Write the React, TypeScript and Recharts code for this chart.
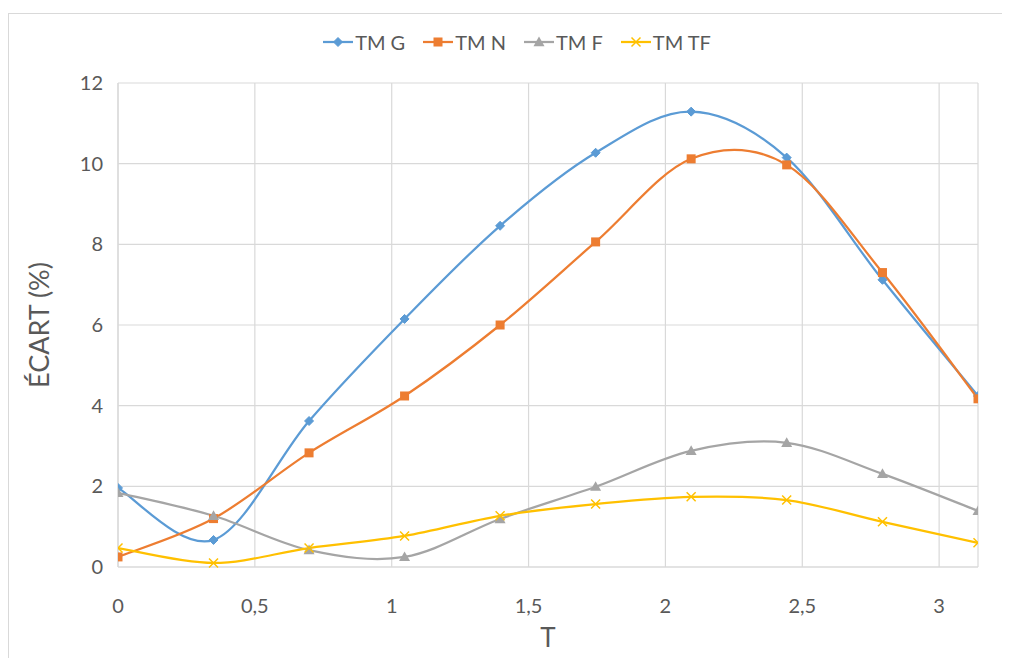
import {
  LineChart,
  Line,
  XAxis,
  YAxis,
  CartesianGrid,
  Legend,
} from "recharts";

const T = [0, 0.349, 0.698, 1.047, 1.396, 1.745, 2.094, 2.443, 2.793, 3.142];
const TM_G = [1.96, 0.67, 3.62, 6.15, 8.46, 10.27, 11.29, 10.15, 7.12, 4.24];
const TM_N = [0.25, 1.2, 2.83, 4.24, 6.0, 8.06, 10.12, 9.97, 7.3, 4.17];
const TM_F = [1.84, 1.27, 0.42, 0.25, 1.19, 1.99, 2.88, 3.08, 2.31, 1.39];
const TM_TF = [0.47, 0.1, 0.47, 0.77, 1.27, 1.56, 1.74, 1.66, 1.12, 0.6];

const X_TICKS = [0, 0.5, 1, 1.5, 2, 2.5, 3];
const Y_TICKS = [0, 2, 4, 6, 8, 10, 12];

const FONT = "Lato, 'Liberation Sans', sans-serif";
const TEXT = "#595959";
const GRID = "#D9D9D9";

const data = T.map((t, i) => ({
  t,
  g: TM_G[i],
  n: TM_N[i],
  f: TM_F[i],
  tf: TM_TF[i],
}));

// Excel-style smoothed line (Catmull-Rom through the points)
function smoothCurve(context: any) {
  let pts: number[][] = [];
  return {
    areaStart() {},
    areaEnd() {},
    lineStart() {
      pts = [];
    },
    lineEnd() {
      if (!pts.length) return;
      context.moveTo(pts[0][0], pts[0][1]);
      const k = 1 / 6;
      for (let i = 0; i < pts.length - 1; i++) {
        const p0 = pts[i - 1] || pts[i];
        const p1 = pts[i];
        const p2 = pts[i + 1];
        const p3 = pts[i + 2] || p2;
        context.bezierCurveTo(
          p1[0] + (p2[0] - p0[0]) * k,
          p1[1] + (p2[1] - p0[1]) * k,
          p2[0] - (p3[0] - p1[0]) * k,
          p2[1] - (p3[1] - p1[1]) * k,
          p2[0],
          p2[1]
        );
      }
    },
    point(x: number, y: number) {
      pts.push([+x, +y]);
    },
  };
}

type Marker = "diamond" | "square" | "triangle" | "cross";

function markerShape(kind: Marker, cx: number, cy: number, color: string, key?: any) {
  if (kind === "diamond") {
    const r = 4.5;
    return (
      <path key={key} d={`M${cx},${cy - r}L${cx + r},${cy}L${cx},${cy + r}L${cx - r},${cy}Z`} fill={color} stroke={color} />
    );
  }
  if (kind === "square") {
    const r = 4.5;
    return <rect key={key} x={cx - r} y={cy - r} width={2 * r} height={2 * r} fill={color} />;
  }
  if (kind === "triangle") {
    const r = 5.5;
    return (
      <path key={key} d={`M${cx},${cy - r}L${cx + r},${cy + r * 0.75}L${cx - r},${cy + r * 0.75}Z`} fill={color} />
    );
  }
  const r = 4.5;
  return (
    <path key={key} d={`M${cx - r},${cy - r}L${cx + r},${cy + r}M${cx + r},${cy - r}L${cx - r},${cy + r}`} stroke={color} strokeWidth={1.5} fill="none" />
  );
}

const SERIES: { key: string; name: string; color: string; marker: Marker }[] = [
  { key: "g", name: "TM G", color: "#5B9BD5", marker: "diamond" },
  { key: "n", name: "TM N", color: "#ED7D31", marker: "square" },
  { key: "f", name: "TM F", color: "#A5A5A5", marker: "triangle" },
  { key: "tf", name: "TM TF", color: "#FFC000", marker: "cross" },
];

function LegendContent() {
  return (
    <div style={{ display: "flex", justifyContent: "center", gap: 18, paddingLeft: 24, fontFamily: FONT, fontSize: 20, color: TEXT, height: 26, alignItems: "center" }}>
      {SERIES.map((s) => (
        <div key={s.key} style={{ display: "flex", alignItems: "center", gap: 2 }}>
          <svg width={30} height={14}>
            <line x1={0} y1={7} x2={30} y2={7} stroke={s.color} strokeWidth={2.25} />
            {markerShape(s.marker, 15, 7, s.color)}
          </svg>
          <span>{s.name}</span>
        </div>
      ))}
    </div>
  );
}

export default function App() {
  return (
    <div style={{ position: "relative", width: 994, height: 650 }}>
      <div
        style={{
          position: "absolute",
          left: 0,
          top: 5,
          right: -20,
          bottom: -20,
          borderLeft: `1.5px solid ${GRID}`,
          borderTop: `1.5px solid ${GRID}`,
        }}
      />
      <LineChart
        width={994}
        height={650}
        data={data}
        margin={{ top: 49, right: 24, bottom: 31, left: 10 }}
        style={{ fontFamily: FONT }}
      >
        <CartesianGrid stroke={GRID} strokeWidth={1.2} />
        <XAxis
          dataKey="t"
          type="number"
          domain={[0, 3.142]}
          ticks={X_TICKS}
          allowDataOverflow
          height={60}
          tickLine={false}
          tickMargin={26}
          axisLine={{ stroke: GRID, strokeWidth: 1.2 }}
          tick={{ fill: TEXT, fontSize: 20 }}
          tickFormatter={(v: number) => String(v).replace(".", ",")}
          label={{
            content: () => (
              <text x={540} y={629} textAnchor="middle" dominantBaseline="central" fill={TEXT} fontSize={26} fontFamily={FONT}>
                T
              </text>
            ),
          }}
        />
        <YAxis
          type="number"
          domain={[0, 12]}
          ticks={Y_TICKS}
          width={100}
          tickLine={false}
          tickMargin={9}
          axisLine={{ stroke: GRID, strokeWidth: 1.2 }}
          tick={{ fill: TEXT, fontSize: 20 }}
          label={{
            content: () => (
              <text x={30} y={317} transform="rotate(-90 30 317)" textAnchor="middle" dominantBaseline="central" fill={TEXT} fontSize={27} fontFamily={FONT}>
                ÉCART (%)
              </text>
            ),
          }}
        />
        <Legend verticalAlign="top" wrapperStyle={{ top: 21, left: 0, width: 994 }} content={() => <LegendContent />} />
        {SERIES.map((s) => (
          <Line
            key={s.key}
            dataKey={s.key}
            name={s.name}
            type={smoothCurve as any}
            stroke={s.color}
            strokeWidth={2.25}
            isAnimationActive={false}
            dot={(p: any) => markerShape(s.marker, p.cx, p.cy, s.color, `${s.key}-${p.index}`)}
            activeDot={false}
          />
        ))}
      </LineChart>
    </div>
  );
}
